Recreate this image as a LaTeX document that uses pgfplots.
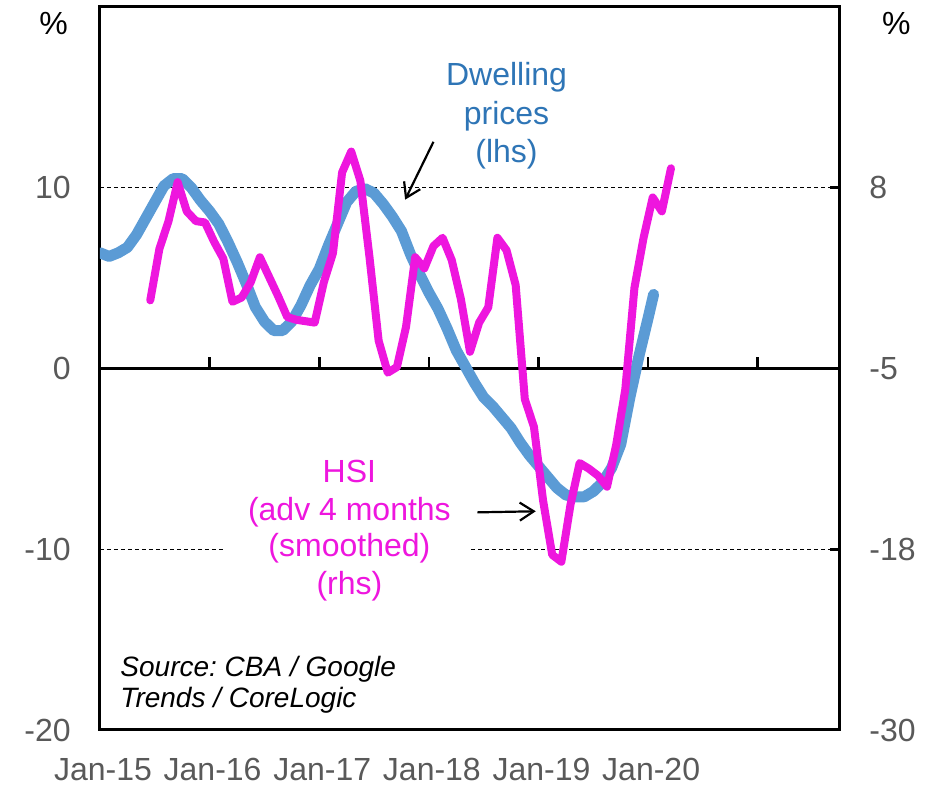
\documentclass[border=0pt]{standalone}
\usepackage{fontspec}
\setmainfont{Liberation Sans}
\usepackage{pgfplots}
\pgfplotsset{compat=1.18}
\usetikzlibrary{arrows.meta}

\definecolor{dwell}{RGB}{91,155,213}
\definecolor{dwelltext}{RGB}{46,117,182}
\definecolor{hsi}{RGB}{238,22,222}
\definecolor{ticktext}{RGB}{89,89,89}

\newcommand{\lbl}{\fontsize{16}{19}\selectfont}
\frenchspacing

\begin{document}
\begin{tikzpicture}
\path[use as bounding box] (-50pt,-27.5pt) rectangle (414pt,365pt);

% left axis: dwelling prices, y/y %
\begin{axis}[
  at={(0,0)}, anchor=south west,
  width=370pt, height=361.5pt, scale only axis,
  xmin=0, xmax=81, ymin=-20, ymax=20,
  axis line style={line width=1.5pt, black},
  xtick={0,12,24,36,48,60},
  xticklabels={Jan-15,Jan-16,Jan-17,Jan-18,Jan-19,Jan-20},
  ytick={-20,-10,0,10},
  yticklabels={-20,-10,0,10},
  major tick length=0pt,
  ymajorgrids,
  major grid style={black, line width=0.5pt, dash pattern=on 2pt off 1.5pt},
  tick label style={font=\lbl, text=ticktext, inner sep=0pt},
  yticklabel style={xshift=-14.5pt},
  xticklabel style={yshift=-14pt, xshift=1.5pt},
]
% gap in the -10 gridline behind the HSI caption
\fill[white] (axis cs:13.7,-9.2) rectangle (axis cs:40.5,-10.8);

% zero line with yearly ticks
\draw[line width=1.5pt] (axis cs:0,0) -- (axis cs:81,0);
\draw[line width=1.3pt] (axis cs:12,0) -- ([yshift=5.5pt]axis cs:12,0);
\draw[line width=1.3pt] (axis cs:24,0) -- ([yshift=5.5pt]axis cs:24,0);
\draw[line width=1.3pt] (axis cs:36,0) -- ([yshift=5.5pt]axis cs:36,0);
\draw[line width=1.3pt] (axis cs:48,0) -- ([yshift=5.5pt]axis cs:48,0);
\draw[line width=1.3pt] (axis cs:60,0) -- ([yshift=5.5pt]axis cs:60,0);
\draw[line width=1.3pt] (axis cs:72,0) -- ([yshift=5.5pt]axis cs:72,0);

\addplot[dwell, line width=5.5pt, line join=round, line cap=round] coordinates {
(0,6.4)(1,6.2)(2,6.4)(3,6.7)(4,7.4)(5,8.3)(6,9.2)(7,10.1)(8,10.5)(9,10.5)
(10,10.0)(11,9.3)(12,8.7)(13,8.0)(14,7.0)(15,5.9)(16,4.7)(17,3.4)(18,2.6)(19,2.1)
(20,2.1)(21,2.6)(22,3.5)(23,4.6)(24,5.5)(25,6.8)(26,8.0)(27,9.2)(28,9.8)(29,9.95)
(30,9.7)(31,9.1)(32,8.4)(33,7.6)(34,6.3)(35,5.2)(36,4.2)(37,3.3)(38,2.2)(39,1.0)
(40,0.1)(41,-0.8)(42,-1.6)(43,-2.1)(44,-2.7)(45,-3.3)(46,-4.1)(47,-4.8)(48,-5.4)(49,-6.0)
(50,-6.6)(51,-7.0)(52,-7.1)(53,-7.1)(54,-6.8)(55,-6.3)(56,-5.5)(57,-4.2)(58,-1.6)(59,0.7)
(60,2.8)(60.6,4.1)
};

% captions and arrows
\node[dwelltext, anchor=base, font=\lbl] at (axis cs:44.5,15.64) {Dwelling};
\node[dwelltext, anchor=base, font=\lbl] at (axis cs:44.5,13.48) {prices};
\node[dwelltext, anchor=base, font=\lbl] at (axis cs:44.5,11.38) {(lhs)};
\draw[line width=1.1pt, -{Straight Barb[length=7pt,width=9pt]}] (axis cs:36.5,12.54) -- (axis cs:33.4,9.34);

\node[hsi, anchor=base, font=\lbl] at (axis cs:27.3,-6.30) {HSI};
\node[hsi, anchor=base, font=\lbl] at (axis cs:27.3,-8.40) {(adv 4 months};
\node[hsi, anchor=base, font=\lbl] at (axis cs:27.3,-10.39) {(smoothed)};
\node[hsi, anchor=base, font=\lbl] at (axis cs:27.3,-12.49) {(rhs)};
\draw[line width=1.1pt, -{Straight Barb[length=7pt,width=9pt]}] (axis cs:41.3,-7.96) -- (axis cs:47.7,-7.9);

\node[anchor=base west, inner sep=0pt, font=\fontsize{14}{16}\selectfont\itshape] at (axis cs:2.2,-17.02) {Source: CBA / Google};
\node[anchor=base west, inner sep=0pt, font=\fontsize{14}{16}\selectfont\itshape] at (axis cs:2.2,-18.73) {Trends / CoreLogic};
\end{axis}

% right axis: HSI, advanced 4 months
\begin{axis}[
  at={(0,0)}, anchor=south west,
  width=370pt, height=361.5pt, scale only axis,
  xmin=0, xmax=81, ymin=-31, ymax=21,
  hide x axis,
  axis y line*=right,
  y axis line style={line width=1.5pt, black},
  ytick={-31,-18,-5,8},
  yticklabels={-30,-18,-5,8},
  tick align=inside,
  major tick length=5pt,
  major tick style={line width=1.5pt, black},
  tick label style={font=\lbl, text=ticktext, inner sep=0pt},
  yticklabel style={xshift=14.5pt},
]
\addplot[hsi, line width=4pt, line join=round, line cap=round] coordinates {
(5.5,-0.1)(6.5,3.6)(7.5,5.6)(8.5,8.4)(9.5,6.3)(10.5,5.6)(11.5,5.5)(12.5,4.1)(13.5,2.9)(14.5,-0.2)
(15.5,0.1)(16.5,1.2)(17.5,3.0)(18.5,1.6)(19.5,0.2)(20.5,-1.3)(21.5,-1.5)(22.5,-1.6)(23.5,-1.7)(24.5,1.2)
(25.5,3.3)(26.5,9.1)(27.5,10.6)(28.5,8.5)(29.5,3.0)(30.5,-3.0)(31.5,-5.3)(32.5,-4.9)(33.5,-2.0)(34.5,3.0)
(35.5,2.2)(36.5,3.8)(37.5,4.4)(38.5,2.8)(39.5,0.0)(40.5,-3.8)(41.5,-1.7)(42.5,-0.6)(43.5,4.4)(44.5,3.5)
(45.5,1.0)(46.5,-7.2)(47.5,-9.2)(48.5,-14.5)(49.5,-18.4)(50.5,-18.9)(51.5,-14.8)(52.5,-11.8)(53.5,-12.2)(54.5,-12.7)
(55.5,-13.5)(56.5,-10.5)(57.5,-6.5)(58.5,0.8)(59.5,4.4)(60.5,7.3)(61.5,6.3)(62.5,9.4)
};
\end{axis}

\node[anchor=base east, font=\lbl] at (-12.5pt,347.5pt) {\%};
\node[anchor=base west, font=\lbl] at (387.5pt,347.5pt) {\%};
\end{tikzpicture}
\end{document}
